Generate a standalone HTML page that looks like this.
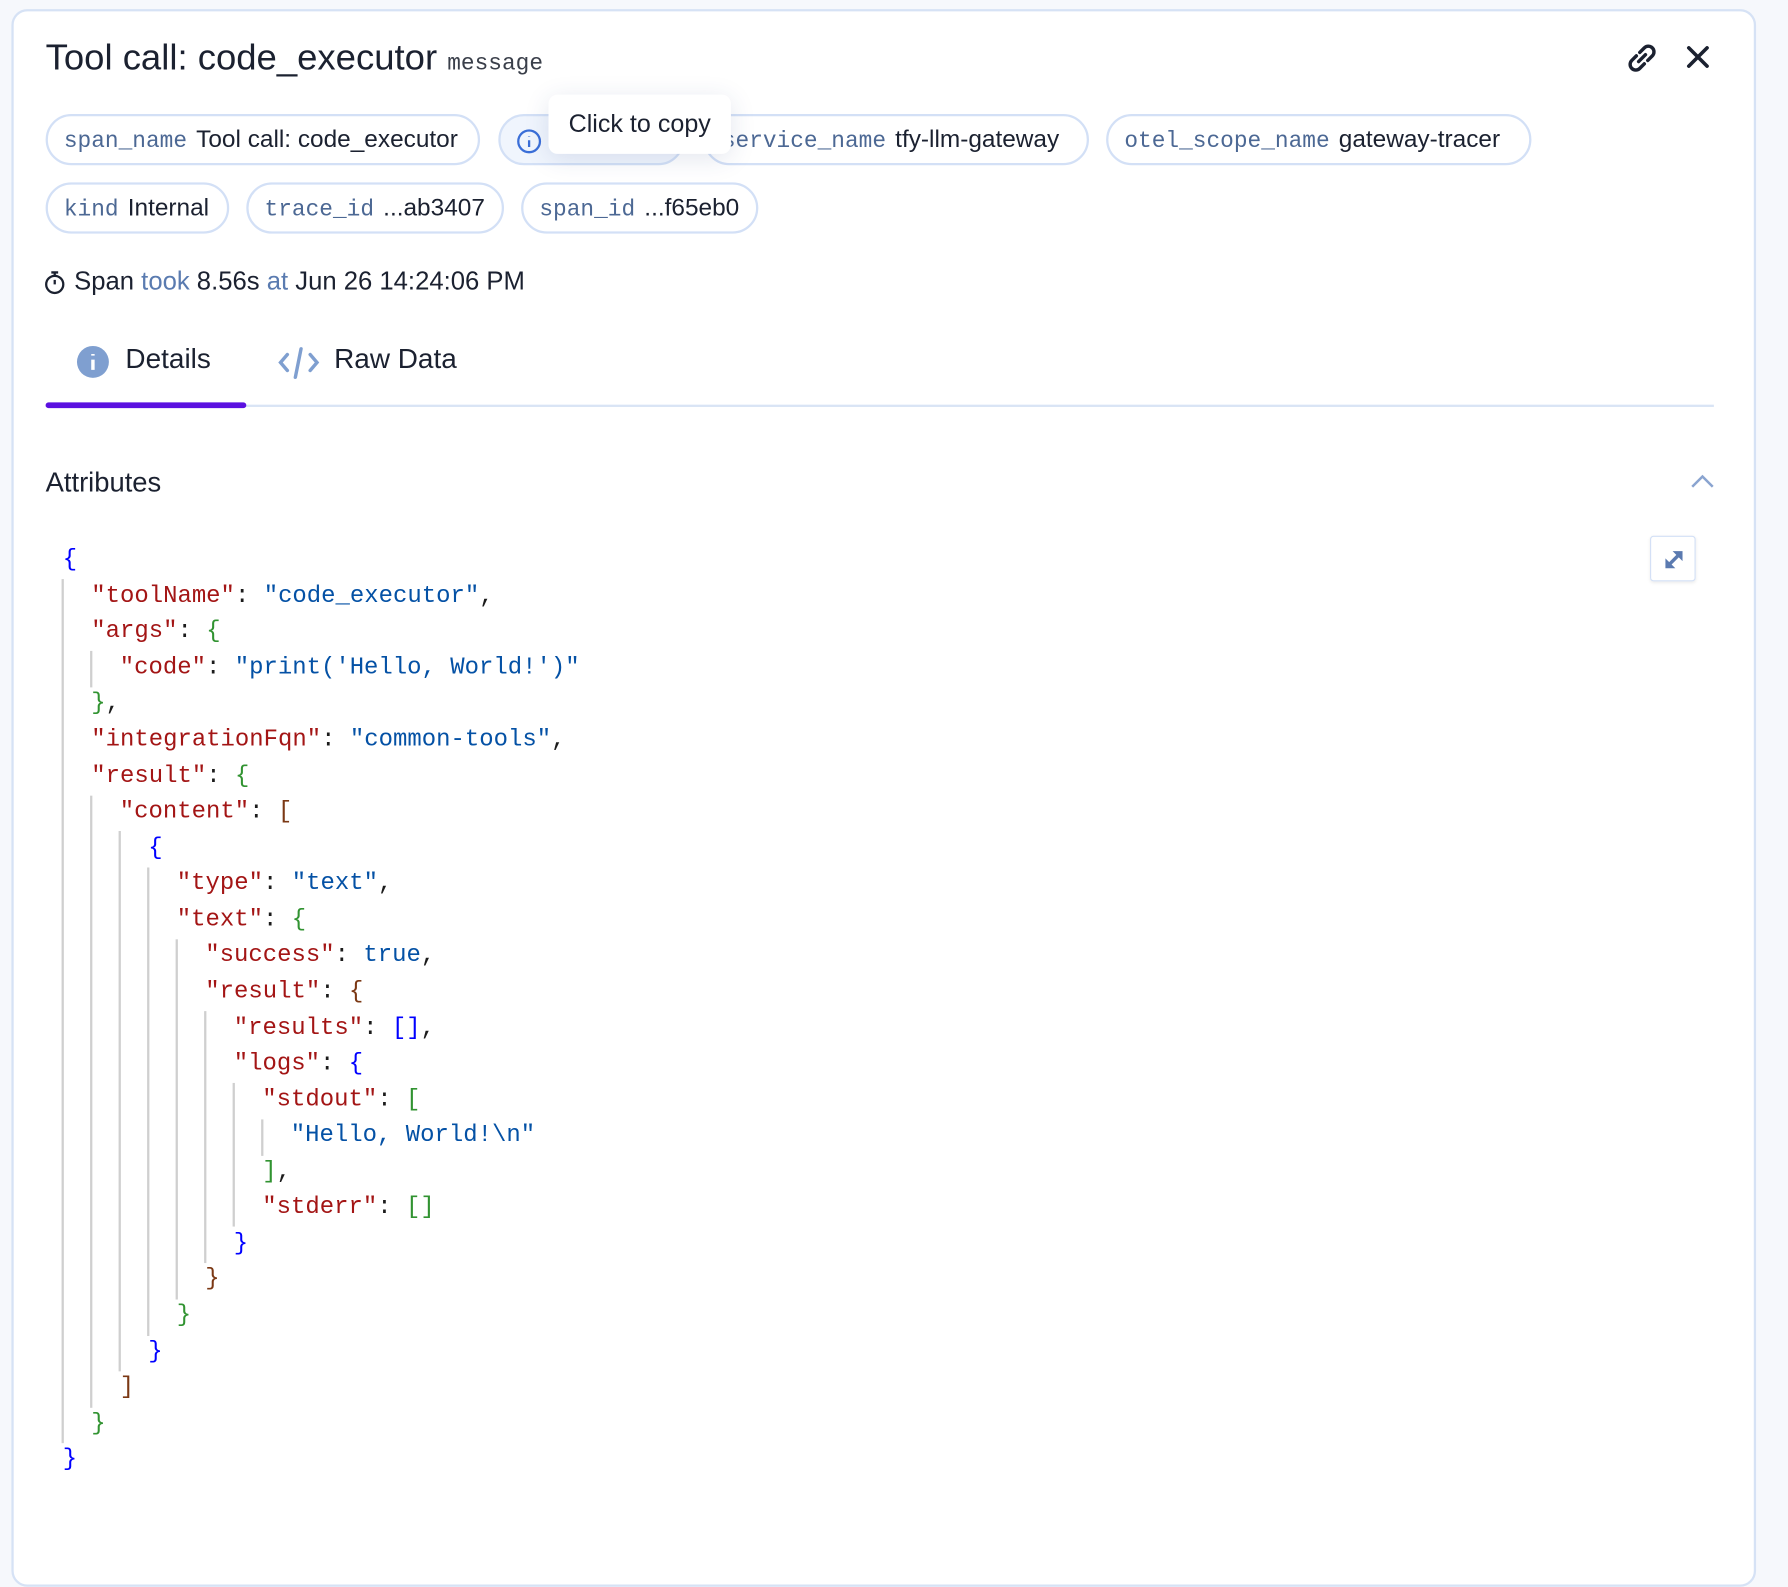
<!DOCTYPE html>
<html><head><meta charset="utf-8"><style>
html,body{margin:0;padding:0;width:1788px;height:1556px;overflow:hidden;background:#f6f8fc;}
#w{position:absolute;left:0;top:0;width:1568px;height:1365px;transform:scale(1.14031,1.13993);transform-origin:0 0;font-family:"Liberation Sans",sans-serif;color:#1b2130;}
.abs{position:absolute;}
.card{left:10px;top:8px;width:1526px;height:1380px;background:#fff;border:2px solid #d6e2f5;border-radius:14px;}
.chip{position:absolute;border:2px solid #d3e0f6;border-radius:23px;box-sizing:border-box;height:45px;line-height:41px;font-size:21.4px;white-space:nowrap;padding:0 14px;background:#fff;}
.chip .k{font-family:"Liberation Mono",monospace;color:#4c6894;font-size:20px;margin-right:8px;}
.mono{font-family:"Liberation Mono",monospace;}
.jl{position:absolute;font-family:"Liberation Mono",monospace;font-size:21px;white-space:pre;line-height:32px;color:#1b1b1b;}
.K{color:#a31515}.S{color:#0451a5}.B{color:#0000ff}.G{color:#319331}.R{color:#7b3814}
.g{position:absolute;width:1.5px;background:#cfcfcf;}
</style></head><body><div id="w">
<div class="abs card"></div>
<div class="abs" style="left:40px;top:32px;font-size:32px;white-space:nowrap;">Tool call: code_executor <span class="mono" style="font-size:20px;color:#3a3f4a">message</span></div>
<svg class="abs" style="left:1425px;top:36px" width="30" height="30" viewBox="0 0 30 30"><g fill="none" stroke="#1b2130" stroke-width="3" stroke-linecap="round"><path d="M13 10 l4-4 a4.5 4.5 0 0 1 7 7 l-4 4"/><path d="M17 20 l-4 4 a4.5 4.5 0 0 1-7-7 l4-4"/><path d="M12 18 l6-6"/></g></svg>
<svg class="abs" style="left:1477px;top:38px" width="24" height="24"><path d="M4 4 L20 20 M20 4 L4 20" stroke="#1b2130" stroke-width="3.2" stroke-linecap="round"/></svg>

<div class="chip" style="left:40px;top:100px;width:381px"><span class="k">span_name</span>Tool call: code_executor</div>
<div class="chip" style="left:437px;top:100px;width:163px;background:#f0f5fd"><svg style="position:absolute;left:14px;top:11px" width="22" height="22"><circle cx="11" cy="11" r="9.5" fill="none" stroke="#3b6fd8" stroke-width="2"/><path d="M11 10v6M11 6.5v.5" stroke="#3b6fd8" stroke-width="2"/></svg></div>
<div class="chip" style="left:617px;top:100px;width:338px"><span class="k">service_name</span>tfy-llm-gateway</div>
<div class="chip" style="left:970px;top:100px;width:373px"><span class="k">otel_scope_name</span>gateway-tracer</div>
<div class="abs" style="left:481px;top:83px;width:160px;height:52px;background:#fff;border-radius:8px;box-shadow:0 4px 22px rgba(40,60,120,0.13);font-size:22px;line-height:52px;text-align:center;white-space:nowrap;">Click to copy</div>

<div class="chip" style="left:40px;top:160px;width:161px"><span class="k">kind</span>Internal</div>
<div class="chip" style="left:216px;top:160px;width:226px"><span class="k">trace_id</span>...ab3407</div>
<div class="chip" style="left:457px;top:160px;width:208px"><span class="k">span_id</span>...f65eb0</div>

<svg class="abs" style="left:38px;top:236px" width="22" height="24"><circle cx="10" cy="13.5" r="7.5" fill="none" stroke="#1b2130" stroke-width="2"/><path d="M7 3h6M10 3v3M10 13.5v-4" stroke="#1b2130" stroke-width="2"/></svg>
<div class="abs" style="left:65px;top:234px;font-size:22.5px;white-space:nowrap;">Span <span style="color:#5a7bb0">took</span> 8.56s <span style="color:#5a7bb0">at</span> Jun 26 14:24:06 PM</div>

<svg class="abs" style="left:67px;top:303px" width="29" height="29"><circle cx="14.5" cy="14.5" r="14" fill="#7f9fd0"/><path d="M14.5 12.5v9M14.5 7.5v1.5" stroke="#fff" stroke-width="3"/></svg>
<div class="abs" style="left:110px;top:302px;font-size:24.5px;">Details</div>
<svg class="abs" style="left:243px;top:302px" width="38" height="32"><g fill="none" stroke="#7f9fd0" stroke-width="3" stroke-linecap="round"><path d="M9 9 L3 16 L9 23M29 9 L35 16 L29 23M21 4 L16 29"/></g></svg>
<div class="abs" style="left:293px;top:302px;font-size:24.5px;">Raw Data</div>
<div class="abs" style="left:40px;top:355px;width:1463px;height:2px;background:#d9e4f5"></div>
<div class="abs" style="left:40px;top:353px;width:176px;height:5px;background:#5b10e0;border-radius:3px"></div>

<div class="abs" style="left:40px;top:410px;font-size:24px;">Attributes</div>
<svg class="abs" style="left:1481px;top:414px" width="24" height="16"><path d="M3 13 L12 4 L21 13" fill="none" stroke="#8aa4d0" stroke-width="2.2"/></svg>
<div class="abs" style="left:1447px;top:470px;width:40px;height:40px;border:1.5px solid #d3e0f6;border-radius:3px;box-sizing:border-box;box-shadow:0 1px 3px rgba(0,0,0,0.08)"></div>
<svg class="abs" style="left:1455px;top:478px" width="26" height="26"><g stroke="#5b7ab0" stroke-width="3" fill="#5b7ab0"><path d="M7 19 L19 7"/><path d="M13 6 L20 6 L20 13Z" stroke-width="1"/><path d="M6 13 L6 20 L13 20Z" stroke-width="1"/></g></svg>

<div class="g" style="left:54px;top:508px;height:758px"></div>
<div class="g" style="left:79px;top:571px;height:32px"></div>
<div class="g" style="left:79px;top:698px;height:537px"></div>
<div class="g" style="left:104px;top:729px;height:474px"></div>
<div class="g" style="left:129px;top:761px;height:411px"></div>
<div class="g" style="left:154px;top:824px;height:316px"></div>
<div class="g" style="left:179px;top:887px;height:221px"></div>
<div class="g" style="left:204px;top:950px;height:126px"></div>
<div class="g" style="left:229px;top:982px;height:32px"></div>

<div class="jl" style="left:55px;top:476px"><span class="B">{</span></div>
<div class="jl" style="left:80px;top:508px"><span class="K">"toolName"</span>: <span class="S">"code_executor"</span>,</div>
<div class="jl" style="left:80px;top:539px"><span class="K">"args"</span>: <span class="G">{</span></div>
<div class="jl" style="left:105px;top:571px"><span class="K">"code"</span>: <span class="S">"print('Hello, World!')"</span></div>
<div class="jl" style="left:80px;top:602px"><span class="G">}</span>,</div>
<div class="jl" style="left:80px;top:634px"><span class="K">"integrationFqn"</span>: <span class="S">"common-tools"</span>,</div>
<div class="jl" style="left:80px;top:666px"><span class="K">"result"</span>: <span class="G">{</span></div>
<div class="jl" style="left:105px;top:697px"><span class="K">"content"</span>: <span class="R">[</span></div>
<div class="jl" style="left:130px;top:729px"><span class="B">{</span></div>
<div class="jl" style="left:155px;top:760px"><span class="K">"type"</span>: <span class="S">"text"</span>,</div>
<div class="jl" style="left:155px;top:792px"><span class="K">"text"</span>: <span class="G">{</span></div>
<div class="jl" style="left:180px;top:823px"><span class="K">"success"</span>: <span class="S">true</span>,</div>
<div class="jl" style="left:180px;top:855px"><span class="K">"result"</span>: <span class="R">{</span></div>
<div class="jl" style="left:205px;top:887px"><span class="K">"results"</span>: <span class="B">[]</span>,</div>
<div class="jl" style="left:205px;top:918px"><span class="K">"logs"</span>: <span class="B">{</span></div>
<div class="jl" style="left:230px;top:950px"><span class="K">"stdout"</span>: <span class="G">[</span></div>
<div class="jl" style="left:255px;top:981px"><span class="S">"Hello, World!\n"</span></div>
<div class="jl" style="left:230px;top:1013px"><span class="G">]</span>,</div>
<div class="jl" style="left:230px;top:1044px"><span class="K">"stderr"</span>: <span class="G">[]</span></div>
<div class="jl" style="left:205px;top:1076px"><span class="B">}</span></div>
<div class="jl" style="left:180px;top:1107px"><span class="R">}</span></div>
<div class="jl" style="left:155px;top:1139px"><span class="G">}</span></div>
<div class="jl" style="left:130px;top:1171px"><span class="B">}</span></div>
<div class="jl" style="left:105px;top:1202px"><span class="R">]</span></div>
<div class="jl" style="left:80px;top:1234px"><span class="G">}</span></div>
<div class="jl" style="left:55px;top:1265px"><span class="B">}</span></div>
</div></body></html>
